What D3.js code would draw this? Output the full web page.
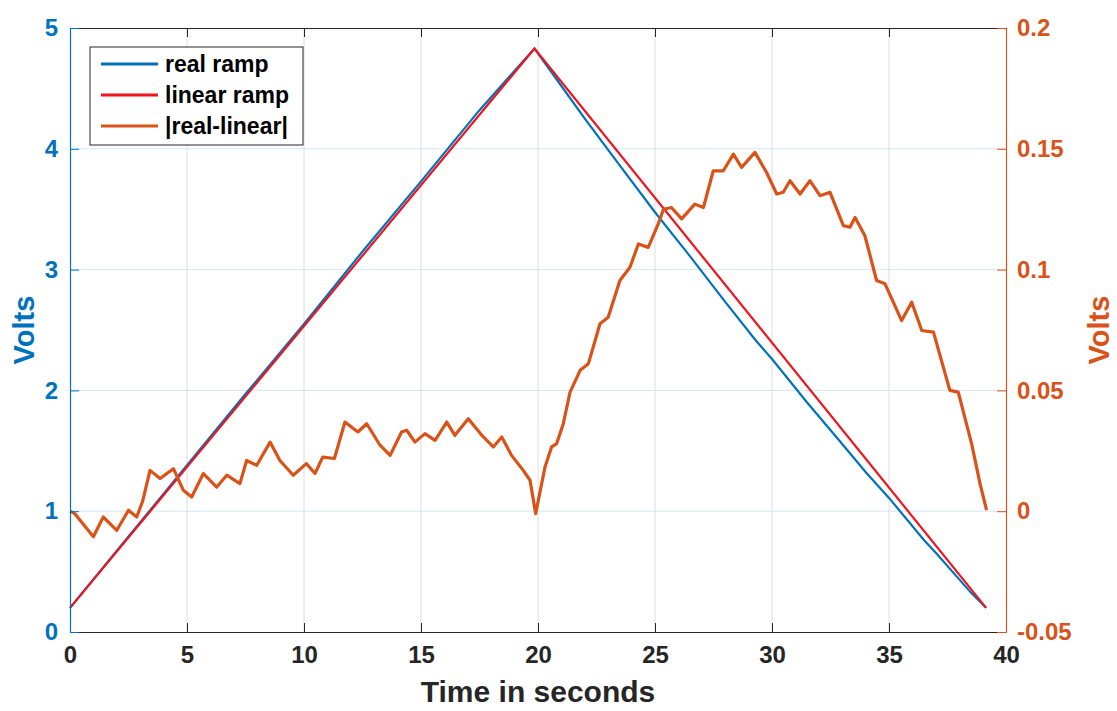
<!DOCTYPE html>
<html><head><meta charset="utf-8">
<script src="https://cdn.jsdelivr.net/npm/d3@7"></script>
<style>body{margin:0;background:#fff}svg{display:block;font-family:"Liberation Sans",Arial,sans-serif}</style>
</head><body><svg id="c" width="1117" height="711"></svg>
<script>
// ---- data ----
const xTicks = [0,5,10,15,20,25,30,35,40];
const yLeftTicks = [0,1,2,3,4,5];
const yRightTicks = [-0.05,0,0.05,0.1,0.15,0.2];
const yRightTickLabels = ["-0.05","0","0.05","0.1","0.15","0.2"];
const legendLabels = ["real ramp","linear ramp","|real-linear|"];

const linearT = [0, 19.85, 39.15];
const linearV = [0.2, 4.83, 0.2];

const realT = [0, 2.5, 5, 7.5, 10, 12.5, 15, 17.5, 19.85, 21, 22, 23.5, 25, 26.5, 28, 29.3, 30, 31.5, 33, 34, 35, 36.5, 37, 38.5, 39.15];
const realV = [0.2, 0.79, 1.38, 1.97, 2.55, 3.15, 3.73, 4.32, 4.83, 4.52, 4.25, 3.86, 3.475, 3.11, 2.733, 2.415, 2.26, 1.90, 1.557, 1.325, 1.11, 0.76, 0.656, 0.326, 0.2];

const diffT = [0, 0.2, 1.0, 1.42, 2.0, 2.5, 2.85, 3.1, 3.42, 3.85, 4.42, 4.84, 5.2, 5.7, 6.27, 6.7, 7.26, 7.55, 7.98, 8.55, 8.97, 9.54, 10.1, 10.47, 10.8, 11.3, 11.75, 12.3, 12.68, 13.25, 13.68, 14.17, 14.39, 14.74, 15.17, 15.6, 16.1, 16.45, 17.02, 17.6, 18.09, 18.45, 18.87, 19.37, 19.66, 19.9, 20.3, 20.58, 20.8, 21.08, 21.37, 21.8, 22.15, 22.65, 23.0, 23.5, 23.93, 24.29, 24.71, 25.14, 25.36, 25.7, 26.14, 26.7, 27.07, 27.49, 27.92, 28.35, 28.7, 29.27, 29.77, 30.2, 30.48, 30.77, 31.2, 31.62, 32.05, 32.48, 33.05, 33.33, 33.55, 33.97, 34.47, 34.83, 35.54, 35.97, 36.4, 36.9, 37.6, 37.96, 38.53, 38.89, 39.17];
const diffV = [0.0, -0.001, -0.0106, -0.0024, -0.0079, 0.0004, -0.0024, 0.004, 0.0169, 0.0135, 0.0176, 0.0087, 0.0059, 0.0156, 0.010, 0.0149, 0.0114, 0.021, 0.019, 0.0286, 0.021, 0.0149, 0.0197, 0.0156, 0.0224, 0.0218, 0.0369, 0.0328, 0.0362, 0.0273, 0.0231, 0.0328, 0.0335, 0.0286, 0.0321, 0.0293, 0.0369, 0.0314, 0.0383, 0.0314, 0.0266, 0.0307, 0.0231, 0.0169, 0.0128, -0.001, 0.0183, 0.0266, 0.028, 0.0362, 0.0493, 0.0583, 0.061, 0.0776, 0.0803, 0.0955, 0.101, 0.1106, 0.1092, 0.1189, 0.125, 0.1257, 0.121, 0.1271, 0.1257, 0.1409, 0.1409, 0.1478, 0.1423, 0.1485, 0.1402, 0.1313, 0.132, 0.1368, 0.1313, 0.1368, 0.1306, 0.132, 0.1182, 0.1175, 0.1216, 0.114, 0.0955, 0.0941, 0.0789, 0.0865, 0.0748, 0.0741, 0.05, 0.0493, 0.028, 0.0114, 0.0004];

// ---- layout ----
const C = {blue:"#0072BD", red:"#F0141E", orange:"#D95319"};
const L = 70, R = 1006, T = 28, B = 632;
const svg = d3.select("#c");
const x = d3.scaleLinear().domain([0,40]).range([L,R]);
const yL = d3.scaleLinear().domain([0,5]).range([B,T]);
const yR = d3.scaleLinear().domain([-0.05,0.2]).range([B,T]);

// grid
const g = svg.append("g");
g.selectAll("line.vx").data(xTicks.slice(1,-1)).join("line")
  .attr("x1",d=>x(d)).attr("x2",d=>x(d)).attr("y1",T).attr("y2",B)
  .attr("stroke","#dcdcdc").attr("stroke-width",1);
g.selectAll("line.hy").data(yLeftTicks.slice(1,-1)).join("line")
  .attr("y1",d=>yL(d)).attr("y2",d=>yL(d)).attr("x1",L).attr("x2",R)
  .attr("stroke","#d3e5f3").attr("stroke-width",1);

// lines
const lineL = d3.line().x(d=>x(d[0])).y(d=>yL(d[1]));
const lineR = d3.line().x(d=>x(d[0])).y(d=>yR(d[1]));
svg.append("path").datum(realT.map((t,i)=>[t,realV[i]])).attr("d",lineL)
  .attr("fill","none").attr("stroke",C.blue).attr("stroke-width",2.2);
svg.append("path").datum(linearT.map((t,i)=>[t,linearV[i]])).attr("d",lineL)
  .attr("fill","none").attr("stroke",C.red).attr("stroke-width",2.2);
svg.append("path").datum(diffT.map((t,i)=>[t,diffV[i]])).attr("d",lineR)
  .attr("fill","none").attr("stroke",C.orange).attr("stroke-width",3.2).attr("stroke-linejoin","round");

// axes
const fs = 24;
const gBottom = svg.append("g").attr("transform",`translate(0,${B})`)
  .call(d3.axisBottom(x).tickValues(xTicks).tickSizeInner(-9).tickSizeOuter(0).tickPadding(14));
gBottom.select(".domain").attr("stroke","#262626").attr("stroke-width",1.2);
gBottom.selectAll("line").attr("stroke","#262626");
gBottom.selectAll("text").attr("font-size",fs).attr("font-weight","bold").attr("fill","#262626");

const gTop = svg.append("g").attr("transform",`translate(0,${T})`)
  .call(d3.axisTop(x).tickValues(xTicks).tickSizeInner(-9).tickSizeOuter(0).tickFormat(""));
gTop.select(".domain").attr("stroke","#262626").attr("stroke-width",1.2);
gTop.selectAll("line").attr("stroke","#262626");

const gLeft = svg.append("g").attr("transform",`translate(${L},0)`)
  .call(d3.axisLeft(yL).tickValues(yLeftTicks).tickSizeInner(-9).tickSizeOuter(0).tickPadding(12)
    .tickFormat(d3.format("d")));
gLeft.select(".domain").attr("stroke",C.blue).attr("stroke-width",1.2);
gLeft.selectAll("line").attr("stroke",C.blue);
gLeft.selectAll("text").attr("font-size",fs).attr("font-weight","bold").attr("fill",C.blue);

const gRight = svg.append("g").attr("transform",`translate(${R},0)`)
  .call(d3.axisRight(yR).tickValues(yRightTicks).tickSizeInner(-9).tickSizeOuter(0).tickPadding(11)
    .tickFormat((d,i)=>yRightTickLabels[i]));
gRight.select(".domain").attr("stroke",C.orange).attr("stroke-width",1.2);
gRight.selectAll("line").attr("stroke",C.orange);
gRight.selectAll("text").attr("font-size",fs).attr("font-weight","bold").attr("fill",C.orange);

// axis titles
svg.append("text").attr("x",(L+R)/2).attr("y",702).attr("text-anchor","middle")
  .attr("font-size",30).attr("font-weight","bold").attr("fill","#262626").text("Time in seconds");
svg.append("text").attr("transform",`translate(34,${(T+B)/2}) rotate(-90)`).attr("text-anchor","middle")
  .attr("font-size",29).attr("font-weight","bold").attr("fill",C.blue).text("Volts");
svg.append("text").attr("transform",`translate(1109,${(T+B)/2}) rotate(-90)`).attr("text-anchor","middle")
  .attr("font-size",29).attr("font-weight","bold").attr("fill",C.orange).text("Volts");

// legend
const lg = svg.append("g");
lg.append("rect").attr("x",90).attr("y",47).attr("width",213).attr("height",98)
  .attr("fill","#fff").attr("stroke","#262626").attr("stroke-width",1);
const lcol = [C.blue,C.red,C.orange];
legendLabels.forEach((lab,i)=>{
  const yy = 64 + i*31;
  lg.append("line").attr("x1",101).attr("x2",158).attr("y1",yy).attr("y2",yy)
    .attr("stroke",lcol[i]).attr("stroke-width",3);
  lg.append("text").attr("x",165).attr("y",yy+8).attr("font-size",23).attr("font-weight","bold")
    .attr("fill","#000").text(lab);
});
</script></body></html>
